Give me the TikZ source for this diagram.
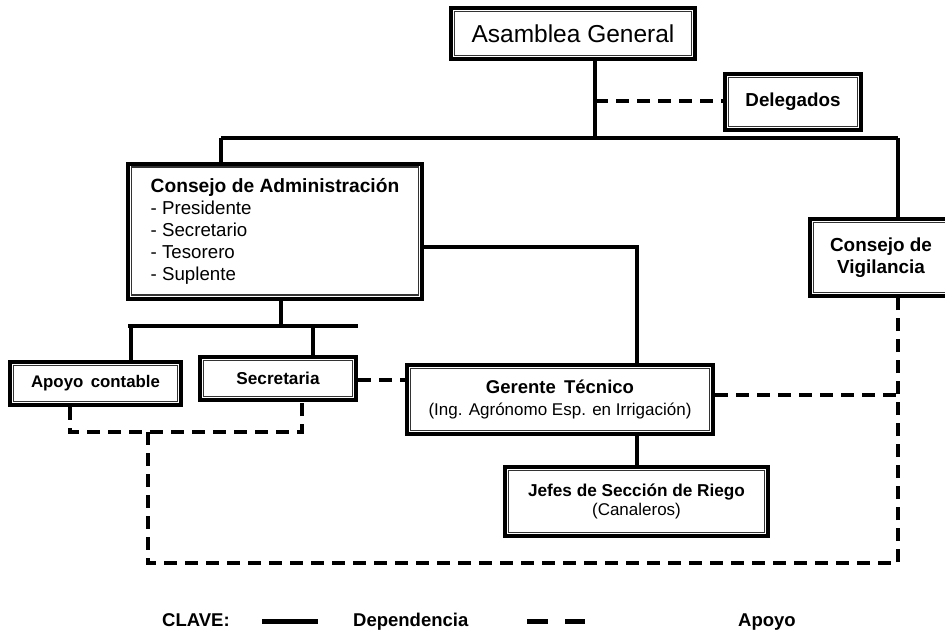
\documentclass[tikz,border=0pt]{standalone}
\usepackage{fontspec}
\setmainfont{Liberation Sans}
\begin{document}
\begin{tikzpicture}[x=1pt,y=-1pt,
  box/.style={draw=black, line width=4pt, fill=white, align=center, inner sep=0pt, font=\fontsize{17}{20}\selectfont},
  innerframe/.style={draw=black!80, line width=1.1pt},
  dep/.style={draw=black, line width=3.1pt},
  apo/.style={draw=black, line width=3.1pt, dash pattern=on 13pt off 8pt},
  legtext/.style={font=\bfseries\fontsize{18.5}{21}\selectfont, inner sep=0pt}]
\useasboundingbox (0,0) rectangle (945,633);
\clip (0,0) rectangle (945,633);
% boxes
\node[box, minimum width=244, minimum height=51, font=\fontsize{24.5}{28}\selectfont] (AG) at (573,33.5) {Asamblea General};
\node[box, minimum width=136, minimum height=56, font=\bfseries\fontsize{18.8}{22}\selectfont] (Del) at (793,102) {Delegados};
\node[box, minimum width=294, minimum height=135, align=left, font=\fontsize{18.7}{22}\selectfont] (CA) at (275,231)
  {{\bfseries\fontsize{19.2}{22}\selectfont Consejo de Administración}\\- Presidente\\- Secretario\\- Tesorero\\- Suplente};
\node[box, minimum width=142, minimum height=77, font=\bfseries\fontsize{18.9}{22}\selectfont] (CV) at (881,257.5) {Consejo de\\Vigilancia};
\node[box, minimum width=171, minimum height=43, font=\bfseries\fontsize{16.8}{20}\selectfont] (AC) at (95.5,383.5) {Apoyo\ \,contable};
\node[box, minimum width=156, minimum height=43, font=\bfseries\fontsize{17.2}{20}\selectfont] (Sec) at (278,378.5) {Secretaria};
\node[box, minimum width=306, minimum height=69, font=\fontsize{17}{21.5}\selectfont] (GT) at (560,399.5)
  {{\bfseries\fontsize{18.5}{21.5}\selectfont Gerente\ \,Técnico}\\(Ing. Agrónomo Esp. en Irrigación)};
\node[box, minimum width=263, minimum height=69, font=\fontsize{17}{19.5}\selectfont] (JS) at (636.5,501.5)
  {{\bfseries\fontsize{17.2}{19.5}\selectfont Jefes de Sección de Riego}\\(Canaleros)};
\foreach \n in {AG,Del,CA,CV,AC,Sec,GT,JS}
  \draw[innerframe] ([shift={(5.5pt,-5.5pt)}]\n.north west) rectangle ([shift={(-5.5pt,5.5pt)}]\n.south east);
% junction coordinates
\coordinate (a1) at (595,138);
\coordinate (a2) at (595,101);
\coordinate (b1) at (221,138);
\coordinate (b2) at (898,138);
\coordinate (c1) at (637,247);
\coordinate (d1) at (281,326);
\coordinate (d2) at (128,326);
\coordinate (d3) at (358,326);
\coordinate (d4) at (131,326);
\coordinate (d5) at (313,326);
\coordinate (e1) at (70,432);
\coordinate (e2) at (302,432);
\coordinate (e3) at (148,432);
\coordinate (e4) at (148,563);
\coordinate (e5) at (898,563);
\coordinate (f1) at (898,395);
\coordinate (g1) at (0,380);
% dependencia
\draw[dep] (AG.south -| a1) -- (a1);
\draw[dep] (b1) -- (b2);
\draw[dep] (b1) -- (CA.north -| b1);
\draw[dep] (b2) -- (CV.north -| b2);
\draw[dep] (CA.east |- c1) -- (c1) -- (GT.north -| c1);
\draw[dep] (CA.south -| d1) -- (d1);
\draw[dep] (d2) -- (d3);
\draw[dep] (d4) -- (AC.north -| d4);
\draw[dep] (d5) -- (Sec.north -| d5);
\draw[dep] (GT.south -| c1) -- (JS.north -| c1);
% apoyo
\draw[apo] (a2) -- (Del.west |- a2);
\draw[apo] (Sec.east |- g1) -- (GT.west |- g1);
\draw[apo] (AC.south -| e1) -- (e1) -- (e2) -- (Sec.south -| e2);
\draw[apo] (e3) -- (e4) -- (e5) -- (CV.south -| e5);
\draw[apo] (GT.east |- f1) -- (f1);
% legend
\node[legtext, anchor=base west] (k1) at (162,626) {CLAVE:};
\node[legtext, anchor=base west] (k2) at (353,626) {Dependencia};
\node[legtext, anchor=base west] (k3) at (738,626) {Apoyo};
\coordinate (l1) at (262,621);
\coordinate (l2) at (318,621);
\coordinate (l3) at (527,621);
\coordinate (l4) at (548,621);
\coordinate (l5) at (565,621);
\coordinate (l6) at (585,621);
\draw[line width=5pt] (l1) -- (l2);
\draw[line width=5pt] (l3) -- (l4);
\draw[line width=5pt] (l5) -- (l6);
\end{tikzpicture}
\end{document}
